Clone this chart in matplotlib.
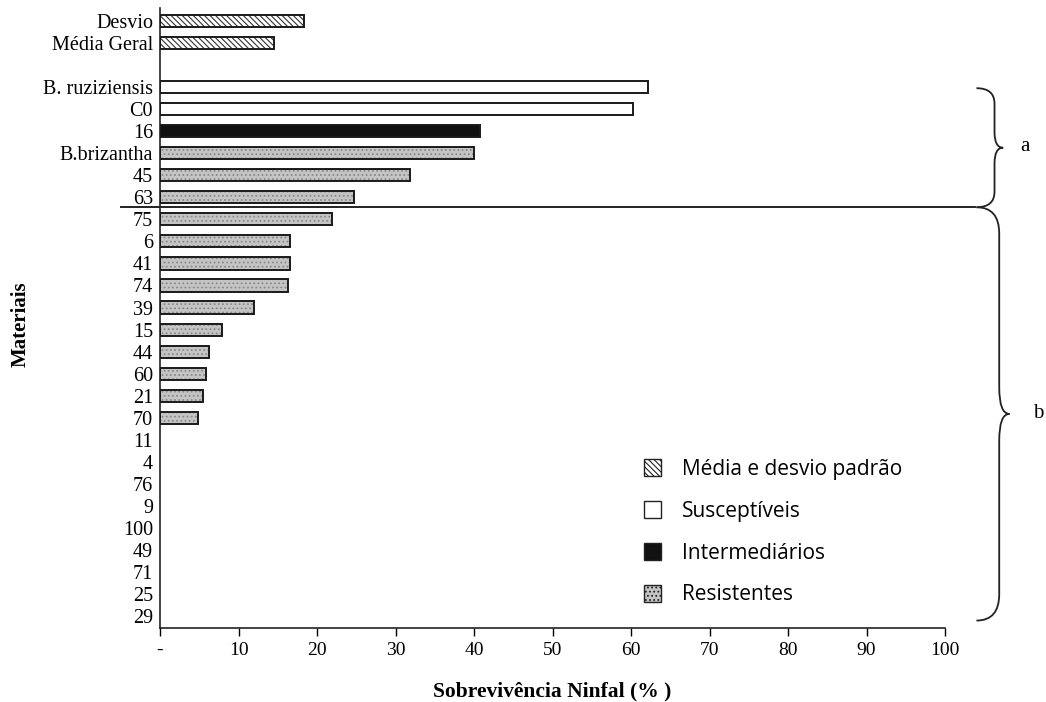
import numpy as np
import matplotlib
matplotlib.use("Agg")
import matplotlib.pyplot as plt
from matplotlib.path import Path
from matplotlib.patches import PathPatch, Patch
import matplotlib.transforms as mtransforms

plt.rcParams.update({
    "font.family": "Liberation Serif",
    "hatch.linewidth": 0.8,
})

# Materiais, de cima para baixo ("" = linha em branco)
materiais = ["Desvio", "Média Geral", "", "B. ruziziensis", "C0", "16",
             "B.brizantha", "45", "63", "75", "6", "41", "74", "39", "15",
             "44", "60", "21", "70", "11", "4", "76", "9", "100", "49", "71",
             "25", "29"]
sobrevivencia = [18.4, 14.5, 0, 62.1, 60.3, 40.7, 40.0, 31.9, 24.7, 21.9,
                 16.5, 16.5, 16.3, 12.0, 7.9, 6.3, 5.9, 5.5, 4.8, 0, 0, 0,
                 0, 0, 0, 0, 0, 0]
grupo = ["media", "media", "", "susc", "susc", "inter", "resist", "resist",
         "resist", "resist", "resist", "resist", "resist", "resist", "resist",
         "resist", "resist", "resist", "resist", "resist", "resist", "resist",
         "resist", "resist", "resist", "resist", "resist", "resist"]

xticks = [0, 10, 20, 30, 40, 50, 60, 70, 80, 90, 100]
xticklabels = ["-", "10", "20", "30", "40", "50", "60", "70", "80", "90", "100"]

legenda = [("media", "Média e desvio padrão"), ("susc", "Susceptíveis"),
           ("inter", "Intermediários"), ("resist", "Resistentes")]

estilos = {
    "media": dict(facecolor="white", hatch="\\\\\\\\\\\\", hatchcolor="#333333"),
    "susc": dict(facecolor="white", hatch=None, hatchcolor=None),
    "inter": dict(facecolor="#111111", hatch=None, hatchcolor=None),
    "resist": dict(facecolor="#c4c4c4", hatch="....", hatchcolor="#8a8a8a"),
}

fig = plt.figure(figsize=(10.46, 7.02), dpi=100)
ax = fig.add_axes([0.153, 0.105, 0.7505, 0.884])

y = np.arange(len(materiais))
h = 0.55
for yi, v, g in zip(y, sobrevivencia, grupo):
    if not g or v <= 0:
        continue
    st = estilos[g]
    if st["hatch"]:
        ax.barh(yi, v, height=h, color=st["facecolor"], edgecolor=st["hatchcolor"],
                hatch=st["hatch"], linewidth=0, zorder=2)
        ax.barh(yi, v, height=h, fill=False, edgecolor="#1a1a1a", linewidth=1.4,
                zorder=3)
    else:
        ax.barh(yi, v, height=h, color=st["facecolor"], edgecolor="#1a1a1a",
                linewidth=1.4, zorder=3)

ax.set_ylim(27.55, -0.6)
ax.set_xlim(0, 100)
ax.set_yticks(y)
ax.set_yticklabels(materiais, fontsize=14.5)
ax.tick_params(axis="y", length=0, pad=5)
ax.set_xticks(xticks)
ax.set_xticklabels(xticklabels, fontsize=14)
ax.tick_params(axis="x", direction="out", length=6, width=1, pad=4)

for s in ["top", "right"]:
    ax.spines[s].set_visible(False)
for s in ["left", "bottom"]:
    ax.spines[s].set_linewidth(1.2)
    ax.spines[s].set_color("#222222")

ax.set_xlabel("Sobrevivência Ninfal (% )", fontsize=15.5, fontweight="bold",
              labelpad=16)
ax.set_ylabel("Materiais", fontsize=15, fontweight="bold")
ax.yaxis.set_label_coords(-0.165, 0.49)

# linha separando os grupos a e b
trans = mtransforms.blended_transform_factory(ax.transAxes, ax.transData)
ax.plot([-0.05, 1.038], [8.45, 8.45], transform=trans, color="#222222",
        linewidth=1.4, clip_on=False)


def chave(x0, x1, xt, y0, y1, ry):
    ym = (y0 + y1) / 2
    verts = [(x0, y0), (x1, y0), (x1, y0 + ry),
             (x1, ym - ry),
             (x1, ym), (xt, ym),
             (x1, ym), (x1, ym + ry),
             (x1, y1 - ry),
             (x1, y1), (x0, y1)]
    codes = [Path.MOVETO, Path.CURVE3, Path.CURVE3,
             Path.LINETO,
             Path.CURVE3, Path.CURVE3,
             Path.CURVE3, Path.CURVE3,
             Path.LINETO,
             Path.CURVE3, Path.CURVE3]
    return PathPatch(Path(verts, codes), fill=False, edgecolor="#222222",
                     linewidth=1.3, clip_on=False)


ax.add_patch(chave(104.0, 106.3, 107.4, 3.05, 8.45, 0.7))
ax.add_patch(chave(104.0, 106.9, 108.2, 8.45, 27.2, 1.2))
ax.text(110.2, 5.7, "a", fontsize=15, va="center", ha="center", clip_on=False)
ax.text(111.9, 17.8, "b", fontsize=15, va="center", ha="center", clip_on=False)

handles = []
for g, lab in legenda:
    st = estilos[g]
    handles.append(Patch(facecolor=st["facecolor"], edgecolor="#222222",
                         hatch=st["hatch"], linewidth=1.0, label=lab))
leg = ax.legend(handles=handles, loc="upper left",
                bbox_to_anchor=(0.606, 0.361), bbox_transform=fig.transFigure,
                frameon=False, borderpad=0, handlelength=0.8, handleheight=0.85,
                handletextpad=1.0, labelspacing=1.0,
                prop={"family": "Open Sans", "size": 15})

fig.savefig("out.png", dpi=100)
